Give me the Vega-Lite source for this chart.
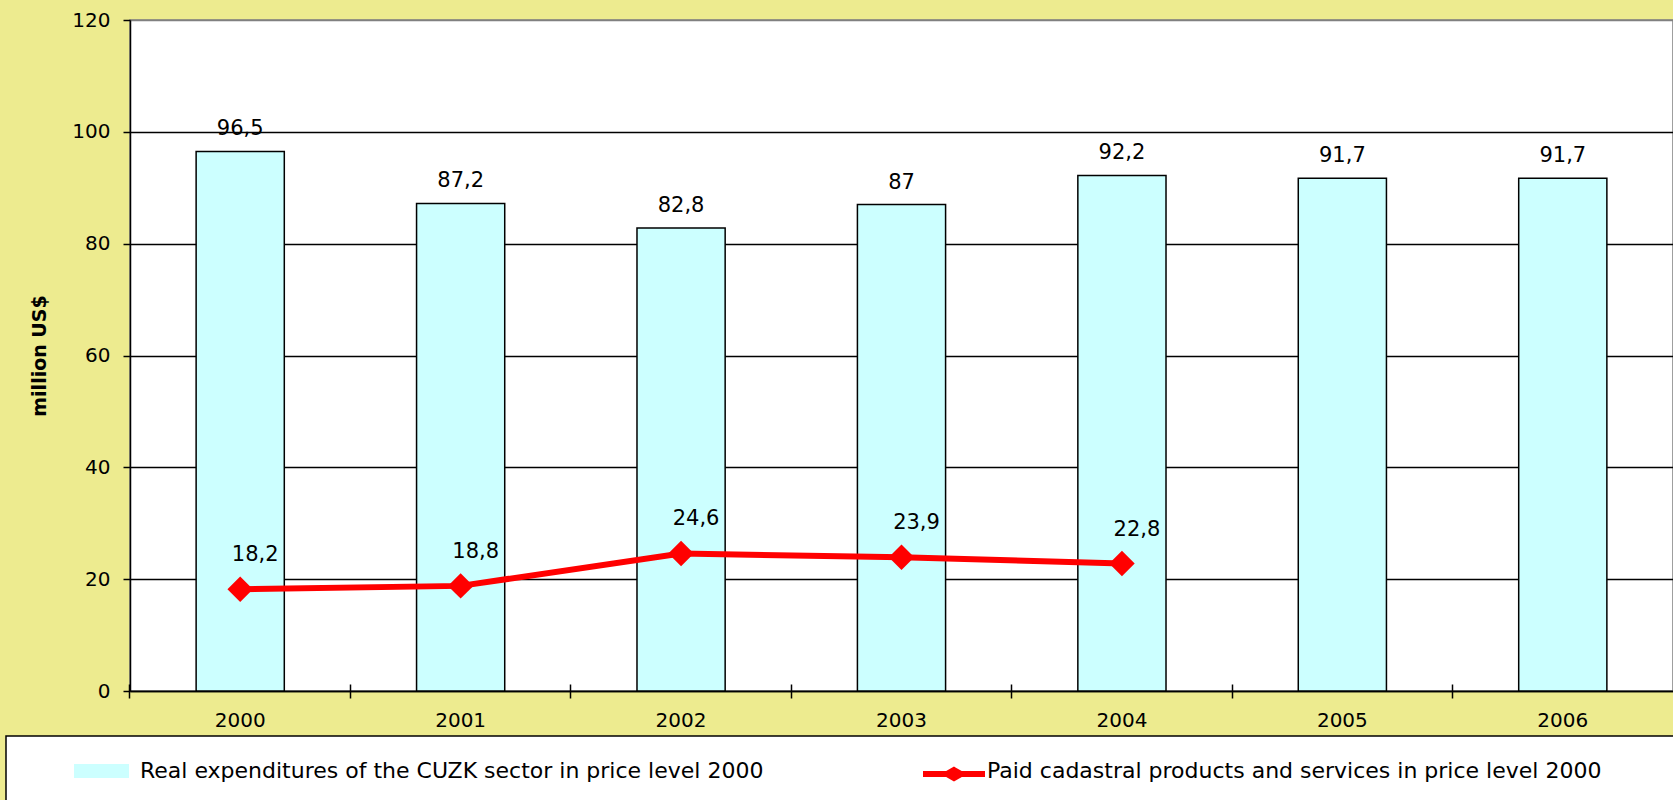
{
  "$schema": "https://vega.github.io/schema/vega-lite/v6.json",
  "autosize": {"type": "none"},
  "width": 1543,
  "height": 671,
  "padding": {"left": 130, "top": 20, "right": 0, "bottom": 109},
  "background": "#EDEB8F",
  "config": {
    "font": "DejaVu Sans",
    "view": {"fill": "white", "stroke": "#808080", "strokeWidth": 1.5},
    "locale": {"number": {"decimal": ",", "thousands": ".", "grouping": [3], "currency": ["", ""]}},
    "legend": {"strokeWidth": 1.5}
  },
  "data": {
    "values": [
      {"year": "2000", "expend": 96.5, "paid": 18.2},
      {"year": "2001", "expend": 87.2, "paid": 18.8},
      {"year": "2002", "expend": 82.8, "paid": 24.6},
      {"year": "2003", "expend": 87.0, "paid": 23.9},
      {"year": "2004", "expend": 92.2, "paid": 22.8},
      {"year": "2005", "expend": 91.7, "paid": null},
      {"year": "2006", "expend": 91.7, "paid": null}
    ]
  },
  "encoding": {
    "x": {
      "field": "year", "type": "ordinal",
      "scale": {"paddingInner": 0.6, "paddingOuter": 0.3}
    }
  },
  "layer": [
    {
      "mark": {"type": "bar", "stroke": "black", "strokeWidth": 1.5},
      "encoding": {
        "x": {
          "field": "year", "type": "ordinal",
          "axis": {
            "title": null, "labelAngle": 0, "labelFontSize": 20, "labelColor": "black",
            "ticks": false, "domainColor": "black", "domainWidth": 1.5, "labelPadding": 19
          }
        },
        "y": {
          "field": "expend", "type": "quantitative",
          "scale": {"domain": [0, 120], "nice": false},
          "axis": {
            "title": "million US$", "titleFontSize": 19, "titleFontWeight": "bold", "titleColor": "black",
            "titlePadding": 22,
            "values": [0, 20, 40, 60, 80, 100, 120],
            "labelFontSize": 20, "labelColor": "black", "labelPadding": 13,
            "tickSize": 7, "tickColor": "black", "tickWidth": 1.5,
            "domainColor": "black", "domainWidth": 1.5,
            "grid": true,
            "gridColor": {"condition": {"test": "datum.value == 120", "value": "#808080"}, "value": "black"},
            "gridWidth": 1.5
          }
        },
        "fill": {
          "datum": "Real expenditures of the CUZK sector in price level 2000",
          "type": "nominal",
          "scale": {
            "domain": ["Real expenditures of the CUZK sector in price level 2000", "Paid cadastral products and services in price level 2000"],
            "range": ["#CCFFFF", "transparent"]
          },
          "legend": {
            "orient": "none", "legendX": -124, "legendY": 716,
            "direction": "horizontal",
            "title": "\u00a0", "titleOrient": "left", "titleFontSize": 1, "titlePadding": 44,
            "padding": 24,
            "fillColor": "white", "strokeColor": "black",
            "symbolType": "M-1,-0.636H4V0.636H-1Z",
            "symbolSize": 484, "symbolStrokeColor": "transparent", "symbolStrokeWidth": 0, "symbolOpacity": 1,
            "labelFontSize": 22, "labelColor": "black", "labelOffset": 44,
            "labelLimit": 2000, "columnPadding": 157,
            "labelExpr": "indexof(datum.label, 'Paid') == 0 ? datum.label + '\u2800\u2800\u2800\u2800' : datum.label"
          }
        }
      }
    },
    {
      "mark": {"type": "text", "baseline": "alphabetic", "dy": -16, "fontSize": 21, "color": "black"},
      "encoding": {
        "x": {
          "field": "year", "type": "ordinal",
          "axis": {
            "orient": "bottom", "title": null, "labels": false, "domain": false,
            "bandPosition": -0.75, "tickSize": -7, "tickColor": "black", "tickWidth": 1.5
          }
        },
        "y": {"field": "expend", "type": "quantitative"},
        "text": {"field": "expend", "type": "quantitative", "format": ".1~f"}
      }
    },
    {
      "transform": [{"filter": "isValid(datum.paid)"}],
      "mark": {
        "type": "line", "strokeWidth": 6,
        "point": {"shape": "diamond", "size": 650, "filled": true, "fill": "#FF0000", "strokeWidth": 0, "opacity": 1}
      },
      "encoding": {
        "x": {
          "field": "year", "type": "ordinal",
          "axis": {
            "orient": "bottom", "title": null, "labels": false, "domain": false,
            "bandPosition": -0.75, "tickSize": 7, "tickColor": "black", "tickWidth": 1.5
          }
        },
        "y": {"field": "paid", "type": "quantitative"},
        "stroke": {
          "datum": "Paid cadastral products and services in price level 2000", "type": "nominal",
          "scale": {"domain": ["Paid cadastral products and services in price level 2000"], "range": ["#FF0000"]},
          "legend": {
            "orient": "none", "legendX": 790, "legendY": 740,
            "direction": "horizontal", "title": null, "padding": 0,
            "symbolType": "M-1,0H4.636M1.818,-0.36L2.45,0L1.818,0.36L1.186,0Z",
            "symbolSize": 484, "symbolStrokeWidth": 6, "symbolOpacity": 1,
            "labelFontSize": 22, "labelOpacity": 0, "labelOffset": 44,
            "labelExpr": "''"
          }
        }
      }
    },
    {
      "transform": [{"filter": "isValid(datum.paid)"}],
      "mark": {"type": "text", "baseline": "alphabetic", "dx": 15, "dy": -28, "fontSize": 21, "color": "black"},
      "encoding": {
        "x": {"field": "year", "type": "ordinal", "axis": null},
        "y": {"field": "paid", "type": "quantitative"},
        "text": {"field": "paid", "type": "quantitative", "format": ".1~f"}
      }
    }
  ],
  "resolve": {"axis": {"x": "independent"}}
}
